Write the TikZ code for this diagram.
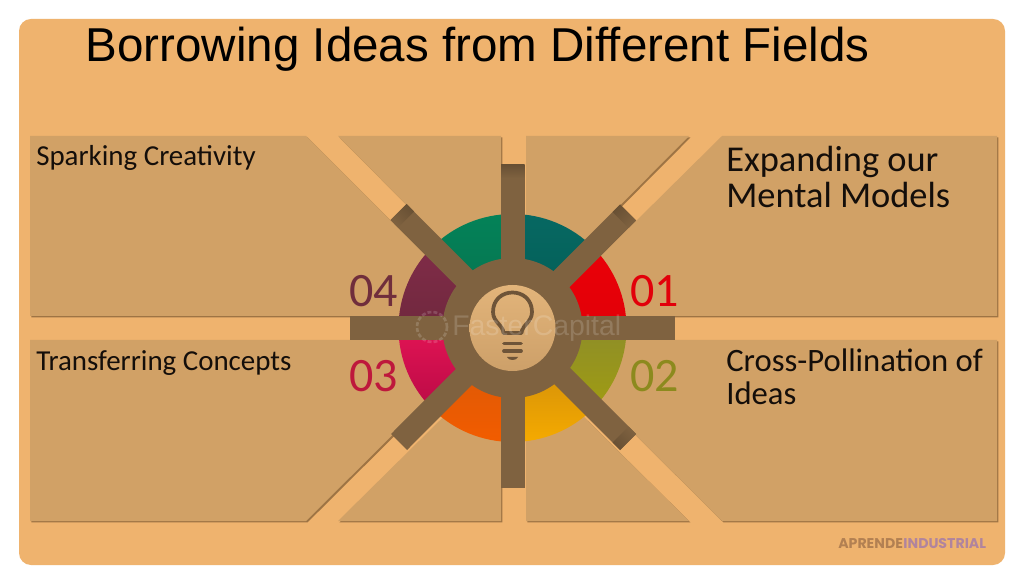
\documentclass[tikz,border=0pt]{standalone}
\usepackage{fontspec}
\setmainfont{Carlito}
\newfontfamily\titlefont{Liberation Sans}
\newfontfamily\markfont{Poppins}[BoldFont=* Bold]
\usetikzlibrary{shapes,arrows,patterns}

\definecolor{oneA}{RGB}{234,0,8}\definecolor{oneB}{RGB}{226,0,8}
\definecolor{twoA}{RGB}{142,142,40}\definecolor{twoB}{RGB}{160,156,18}
\definecolor{threeA}{RGB}{196,132,14}\definecolor{threeB}{RGB}{245,170,0}
\definecolor{fourA}{RGB}{212,88,8}\definecolor{fourB}{RGB}{242,92,0}
\definecolor{fiveA}{RGB}{226,20,84}\definecolor{fiveB}{RGB}{186,10,70}
\definecolor{sixA}{RGB}{128,44,72}\definecolor{sixB}{RGB}{112,40,62}
\definecolor{sevenA}{RGB}{4,130,88}\definecolor{sevenB}{RGB}{6,112,78}
\definecolor{eightA}{RGB}{6,104,98}\definecolor{eightB}{RGB}{4,92,84}

\tikzset{
  panel/.style={fill={rgb, 255:red, 209; green, 161; blue, 102 },
    preaction={fill={rgb, 255:red, 158; green, 116; blue, 68 },transform canvas={shift={(1.1pt,-1.1pt)}}}},
  spoke/.style={fill={rgb, 255:red, 127; green, 98; blue, 64 }},
  lamp/.style={draw={rgb, 255:red, 110; green, 84; blue, 56 },line width=2.8,line cap=round,line join=round},
  caption/.style={anchor=base west,inner sep=0pt,text={rgb, 255:red, 20; green, 14; blue, 10 }},
  number/.style={anchor=base west,inner sep=0pt,font=\fontsize{36}{36}\selectfont},
  endshade/.style={top color={rgb, 255:red, 104; green, 80; blue, 52 },bottom color={rgb, 255:red, 127; green, 98; blue, 64 }},
}

\begin{document}
\begin{tikzpicture}[x=0.75pt,y=0.75pt,yscale=-1,xscale=1]
\useasboundingbox (0,0) rectangle (1024,584);

%Shape: Background
\fill [white] (0,0) rectangle (1024,584);
\fill [rounded corners=9pt,fill={rgb, 255:red, 239; green, 179; blue, 110 }] (19,19) rectangle (1005,565);

%Shape: Panels
\fill [panel] (30,136) -- (306,136) -- (512.5,342) -- (512.5,316) -- (30,316) -- cycle;
\fill [panel] (338,136) -- (501,136) -- (501,300) -- cycle;
\fill [panel] (526,136) -- (689,136) -- (526,300) -- cycle;
\fill [panel] (722,136) -- (997,136) -- (997,316) -- (540,316) -- cycle;
\fill [panel] (30,340) -- (488,340) -- (306,521) -- (30,521) -- cycle;
\fill [panel] (338,521) -- (501,360) -- (501,521) -- cycle;
\fill [panel] (526,360) -- (689,521) -- (526,521) -- cycle;
\fill [panel] (540,340) -- (997,340) -- (997,521) -- (722,521) -- cycle;

%Shape: Ring sectors
\foreach \ang/\colA/\colB in {-45/oneA/oneB,0/twoA/twoB,45/threeA/threeB,90/fourA/fourB,135/fiveA/fiveB,180/sixA/sixB,225/sevenA/sevenB,270/eightA/eightB}
{
  \shade [top color=\colA,bottom color=\colB] (512.5,328) -- ++(\ang:114) arc (\ang:\ang+45:114) -- cycle;
}

%Shape: Spokes
\fill [spoke] (501,165) rectangle (524.5,488);
\fill [spoke] (350,316) rectangle (675,340);
\fill [spoke] (390.5,220) -- (406.5,204) -- (636,434) -- (620,450) -- cycle;
\fill [spoke] (620,204.5) -- (636,220.5) -- (407,450) -- (391,434) -- cycle;
\shade [endshade] (501,165) rectangle (524.5,178);
\shade [endshade,shading angle=-45] (390.5,220) -- (406.5,204) -- (414,211.5) -- (398,227.5) -- cycle;
\shade [endshade,shading angle=45] (620,204.5) -- (636,220.5) -- (628.5,228) -- (612.5,212) -- cycle;
\shade [endshade,shading angle=135] (636,434) -- (620,450) -- (612.5,442.5) -- (628.5,426.5) -- cycle;

%Shape: Hub
\fill [spoke] (512.5,328) circle (70);
\shade [top color={rgb, 255:red, 226; green, 180; blue, 122 },bottom color={rgb, 255:red, 205; green, 160; blue, 105 }] (512.5,328) circle (43);

%Shape: Lamp
\draw [lamp] (503.5,333) .. controls (503,325) and (493,322) .. (493,312) .. controls (493,286) and (532,286) .. (532,312) .. controls (532,322) and (522,325) .. (521.5,333) -- cycle;
\draw [lamp] (504,343.5) -- (521,343.5);
\draw [lamp] (504,351) -- (521,351);
\fill [fill={rgb, 255:red, 110; green, 84; blue, 56 }] (507,357) -- (518,357) .. controls (517,361) and (508,361) .. (507,357) -- cycle;

%Shape: Watermark gear
\draw [white,opacity=0.16,line width=2,dash pattern={on 3pt off 1.5pt}] (432,327) circle (15);

% Text Node
\node [anchor=base west,inner sep=0pt,font=\titlefont\fontsize{35.65}{35.65}\selectfont] (titleText) at (85.5,62) {Borrowing Ideas from Different Fields};
% Text Node
\node [caption,font=\fontsize{21.7}{21.7}\selectfont] (sparkText) at (36,166) {Sparking Creativity};
% Text Node
\node [caption,font=\fontsize{21.7}{21.7}\selectfont] (transferText) at (36,371) {Transferring Concepts};
% Text Node
\node [caption,font=\fontsize{27.3}{27.3}\selectfont] (expandText) at (726,172) {Expanding our};
% Text Node
\node [caption,font=\fontsize{27.3}{27.3}\selectfont] (mentalText) at (726,208) {Mental Models};
% Text Node
\node [caption,font=\fontsize{24.5}{24.5}\selectfont] (crossText) at (726,372) {Cross-Pollination of};
% Text Node
\node [caption,font=\fontsize{24.5}{24.5}\selectfont] (ideasText) at (726,404) {Ideas};
% Text Node
\node [number,text={rgb, 255:red, 226; green, 0; blue, 10 }] (numOne) at (630,307) {01};
% Text Node
\node [number,text={rgb, 255:red, 140; green, 138; blue, 30 }] (numTwo) at (630,392) {02};
% Text Node
\node [number,text={rgb, 255:red, 190; green, 24; blue, 60 }] (numThree) at (349,392) {03};
% Text Node
\node [number,text={rgb, 255:red, 112; green, 46; blue, 60 }] (numFour) at (349,307) {04};
% Text Node
\node [anchor=base west,inner sep=0pt,text=white,opacity=0.16,font=\titlefont\fontsize{21.3}{21.3}\selectfont] (waterText) at (452,336) {FasterCapital};
% Text Node
\node [anchor=base west,inner sep=0pt,font=\markfont\bfseries\fontsize{10.6}{10.6}\selectfont,text={rgb, 255:red, 178; green, 128; blue, 82 }] (brandA) at (838,548) {APRENDE};
% Text Node
\node [anchor=base west,inner sep=0pt,font=\markfont\bfseries\fontsize{10.6}{10.6}\selectfont,text={rgb, 255:red, 176; green, 132; blue, 158 }] (brandB) at (brandA.base east) {INDUSTRIAL};

\end{tikzpicture}
\end{document}
